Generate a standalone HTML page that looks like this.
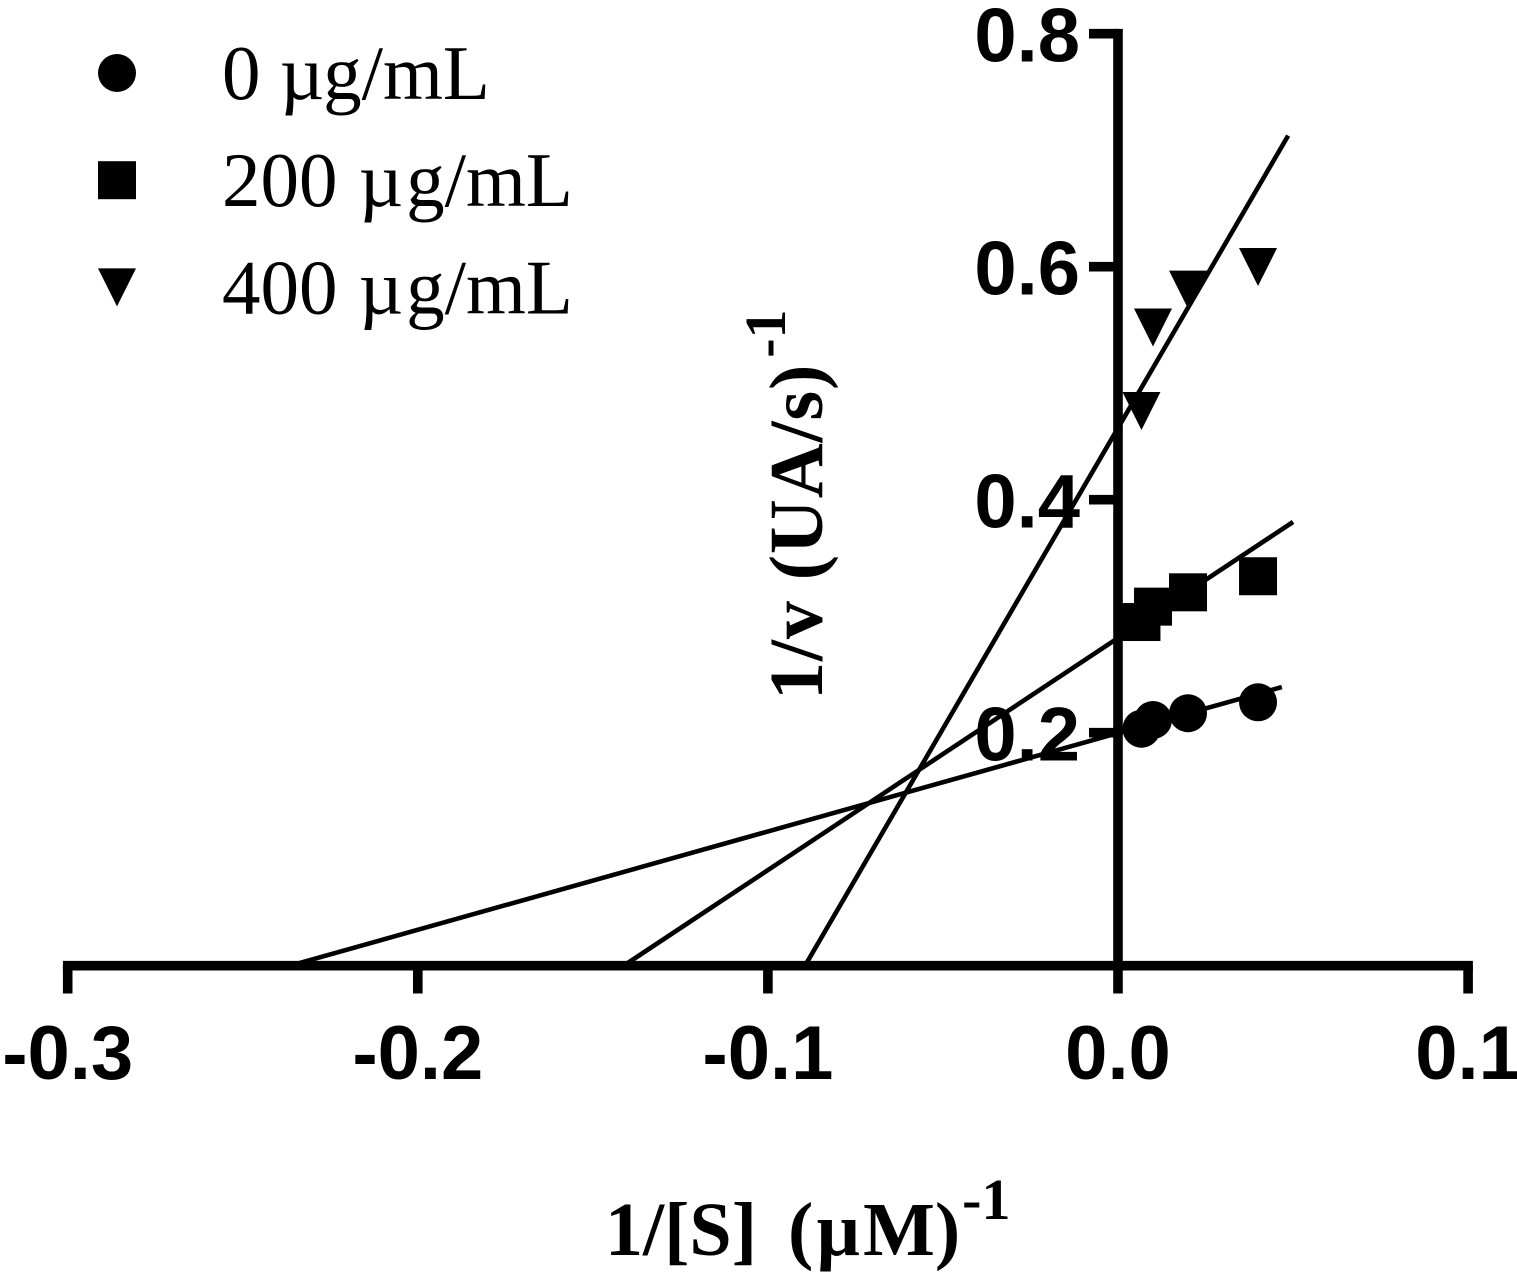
<!DOCTYPE html>
<html>
<head>
<meta charset="utf-8">
<style>
html,body{margin:0;padding:0;background:#fff;}
svg{display:block;}
.tick{font-family:"Liberation Sans",sans-serif;font-weight:bold;font-size:76px;fill:#000;}
.legend{font-family:"Liberation Serif",serif;font-size:77px;fill:#000;}
.title{font-family:"Liberation Serif",serif;font-weight:bold;font-size:76px;fill:#000;}
</style>
</head>
<body>
<svg id="chart" xmlns="http://www.w3.org/2000/svg" width="1517" height="1278" viewBox="0 0 1517 1278">
<text class="title" x="605" y="1255" style="word-spacing:12px">1/[S] (<tspan dx="3">µ</tspan><tspan dx="3">M)</tspan><tspan font-size="58" dy="-36" dx="2">-1</tspan></text>
<text class="title" transform="translate(822,700) rotate(-90)" x="0" y="0" style="letter-spacing:0.9px">1/v (UA/s)<tspan font-size="58" dy="-37" dx="6" style="letter-spacing:0">-1</tspan></text>
</svg>
<script>
const xTicks = [-0.3, -0.2, -0.1, 0.0, 0.1];
const xTickLabels = ["-0.3", "-0.2", "-0.1", "0.0", "0.1"];
const yTicks = [0.2, 0.4, 0.6, 0.8];
const yTickLabels = ["0.2", "0.4", "0.6", "0.8"];
const substrateInverse = [0.0067, 0.01, 0.02, 0.04];
const series0 = [0.2034, 0.2109, 0.2167, 0.2261];
const series200 = [0.295, 0.3082, 0.3205, 0.3343];
const series400 = [0.4761, 0.5478, 0.5803, 0.5997];
const fit0X = [-0.2365, 0.0468];
const fit0Y = [0, 0.2392];
const fit200X = [-0.1412, 0.05];
const fit200Y = [0, 0.3809];
const fit400X = [-0.0894, 0.0486];
const fit400Y = [0, 0.7125];
const legendLabels = ["0 µg/mL", "200 µg/mL", "400 µg/mL"];

const NS = "http://www.w3.org/2000/svg";
const svg = document.getElementById("chart");
function xScale(v){ return 1118 + v * 3501; }
function yScale(v){ return 965.7 - v * 1165; }
function make(tag, attrs, parent){
  const el = document.createElementNS(NS, tag);
  for (const k in attrs) el.setAttribute(k, attrs[k]);
  (parent || svg).appendChild(el);
  return el;
}
function marker(shape, cx, cy, parent){
  let el;
  if (shape === "circle") {
    el = make("circle", {cx: cx, cy: cy, r: 19, fill: "#000"}, parent);
  } else if (shape === "square") {
    el = make("rect", {x: cx - 19, y: cy - 19, width: 38, height: 38, fill: "#000"}, parent);
  } else {
    el = make("polygon", {points: (cx - 19) + "," + (cy - 19) + " " + (cx + 19) + "," + (cy - 19) + " " + cx + "," + (cy + 19), fill: "#000"}, parent);
  }
  return el;
}

// fit lines
function drawFit(xs, ys, name){
  const l = make("line", {x1: xScale(xs[0]), y1: yScale(ys[0]), x2: xScale(xs[1]), y2: yScale(ys[1]), stroke: "#000", "stroke-width": 4.6});
  
  
}
drawFit(fit0X, fit0Y, "fit-line-0");
drawFit(fit200X, fit200Y, "fit-line-200");
drawFit(fit400X, fit400Y, "fit-line-400");

// axes
const AXIS_W = 9.6;
const xAxis = make("line", {x1: xScale(-0.3) - AXIS_W / 2, y1: yScale(0), x2: xScale(0.1) + AXIS_W / 2, y2: yScale(0), stroke: "#000", "stroke-width": AXIS_W});


const yAxis = make("line", {x1: xScale(0), y1: yScale(0), x2: xScale(0), y2: yScale(0.8) - AXIS_W / 2, stroke: "#000", "stroke-width": AXIS_W});



xTicks.forEach(function(v, i){
  const t = make("line", {x1: xScale(v), y1: yScale(0), x2: xScale(v), y2: 993.5, stroke: "#000", "stroke-width": AXIS_W});
  
  
  const lab = make("text", {x: xScale(v), y: 1079, "text-anchor": "middle", "class": "tick"});
  lab.textContent = xTickLabels[i];
  
  
});
yTicks.forEach(function(v, i){
  const t = make("line", {x1: xScale(0), y1: yScale(v), x2: 1089, y2: yScale(v), stroke: "#000", "stroke-width": AXIS_W});
  
  
  const lab = make("text", {x: 1080, y: yScale(v) + 28, "text-anchor": "end", "class": "tick"});
  lab.textContent = yTickLabels[i];
  
  
});

// points
function drawSeries(values, shape, name){
  const g = make("g", {});
  
  
  values.forEach(function(v, i){
    const m = marker(shape, xScale(substrateInverse[i]), yScale(v), g);
    
    
  });
}
drawSeries(series0, "circle", "series-0-ug-ml");
drawSeries(series200, "square", "series-200-ug-ml");
drawSeries(series400, "triangle", "series-400-ug-ml");

// legend
const legendShapes = ["circle", "square", "triangle"];
legendLabels.forEach(function(txt, i){
  const cy = 73 + i * 107.2;
  const g = make("g", {});
  
  
  const m = marker(legendShapes[i], 117, cy, g);
  
  
  const lab = make("text", {x: 222, y: cy + 26, "class": "legend"}, g);
  const parts = txt.split("µ");
  lab.appendChild(document.createTextNode(parts[0]));
  const mu = make("tspan", {dx: i === 0 ? 0 : 2}, lab);
  mu.textContent = "µ";
  const rest = make("tspan", {dx: i === 0 ? -1 : 3}, lab);
  rest.textContent = parts[1];
  
  
});
</script>
</body>
</html>
